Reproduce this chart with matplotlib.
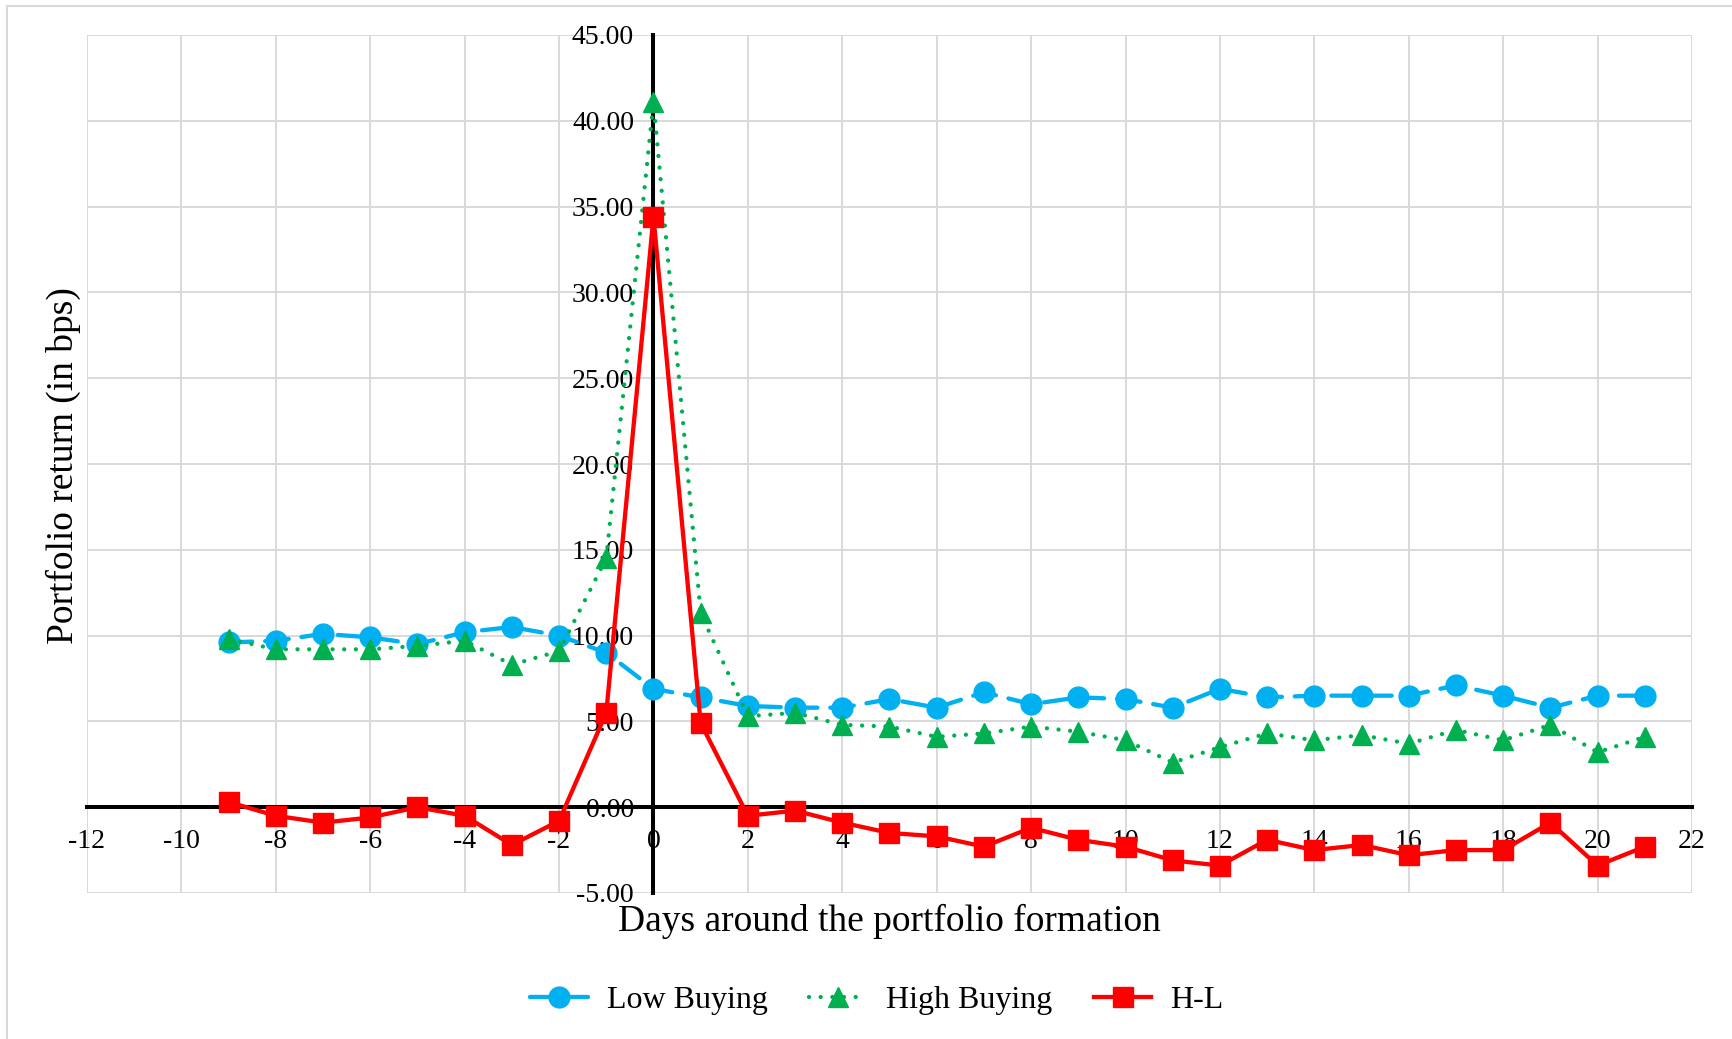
import numpy as np
import matplotlib
matplotlib.use("Agg")
import matplotlib.pyplot as plt
from matplotlib.ticker import FormatStrFormatter, MultipleLocator
from matplotlib.patches import Rectangle

plt.rcParams['font.family'] = ['Liberation Serif', 'DejaVu Serif']
plt.rcParams['axes.unicode_minus'] = False

# data
days = list(range(-9, 22))
low_buying = [9.6, 9.7, 10.1, 9.9, 9.5, 10.2, 10.5, 10.0, 9.0, 6.9,
              6.4, 5.9, 5.8, 5.8, 6.3, 5.8, 6.7, 6.0, 6.4, 6.3,
              5.8, 6.9, 6.4, 6.5, 6.5, 6.5, 7.1, 6.5, 5.8, 6.5, 6.5]
high_buying = [9.8, 9.2, 9.2, 9.2, 9.4, 9.7, 8.3, 9.1, 14.5, 41.1,
               11.3, 5.3, 5.5, 4.8, 4.7, 4.1, 4.3, 4.7, 4.4, 3.9,
               2.6, 3.5, 4.3, 3.9, 4.2, 3.7, 4.5, 3.9, 4.8, 3.2, 4.1]
h_minus_l = [0.3, -0.5, -0.9, -0.6, 0.0, -0.5, -2.2, -0.8, 5.5, 34.4,
             4.9, -0.5, -0.2, -0.9, -1.5, -1.7, -2.3, -1.2, -1.9, -2.3,
             -3.1, -3.4, -1.9, -2.5, -2.2, -2.8, -2.5, -2.5, -0.9, -3.4, -2.3]

fig = plt.figure(figsize=(17.32, 10.39), dpi=100)
ax = fig.add_axes([87 / 1732, 1 - 893 / 1039, (1692 - 87) / 1732, (893 - 35) / 1039])

# chart border (only top/left visible in the original)
fig.patches.append(Rectangle((7 / 1732, -0.1), 1.2, 1 - 6 / 1039 + 0.1,
                             transform=fig.transFigure, fill=False,
                             edgecolor='#D9D9D9', linewidth=1.5))

ax.plot(days, low_buying, color='#00B0F0', linewidth=3.1, marker='o', markersize=15,
        dashes=(5.5, 3.0), dash_capstyle='round', label='Low Buying', zorder=3)
ax.plot(days, high_buying, color='#00B050', linewidth=3.1, marker='^', markersize=15,
        linestyle=(0, (0.01, 2.7)), dash_capstyle='round', label='High Buying', zorder=3)
ax.plot(days, h_minus_l, color='#FF0000', linewidth=3.1, marker='s', markersize=14,
        label='H-L', zorder=4)

ax.set_xlim(-12, 22)
ax.set_ylim(-5, 45)
ax.xaxis.set_major_locator(MultipleLocator(2))
ax.yaxis.set_major_locator(MultipleLocator(5))
ax.xaxis.set_major_formatter(FormatStrFormatter('%d'))
ax.yaxis.set_major_formatter(FormatStrFormatter('%.2f'))

ax.grid(True, color='#D9D9D9', linewidth=1.4, zorder=0)
ax.set_axisbelow(True)

ax.spines['left'].set_position(('data', 0))
ax.spines['bottom'].set_position(('data', 0))
for s in ['left', 'bottom']:
    ax.spines[s].set_linewidth(2.9)
    ax.spines[s].set_color('black')
    ax.spines[s].set_zorder(2.5)
ax.spines['top'].set_visible(False)
ax.spines['right'].set_visible(False)

ax.tick_params(axis='both', length=0, labelsize=20, colors='black')
ax.tick_params(axis='y', pad=14)
ax.tick_params(axis='x', pad=16)

fig.text(889 / 1732, 1 - 921 / 1039, 'Days around the portfolio formation',
         ha='center', va='center', fontsize=27)
fig.text(63 / 1732, 1 - 466 / 1039, 'Portfolio return (in bps)',
         ha='center', va='center', rotation=90, fontsize=27)

fig.legend(loc='center', bbox_to_anchor=(877 / 1732, 1 - 1000 / 1039), ncol=3,
           frameon=False, fontsize=23, handlelength=1.8, handletextpad=0.6,
           columnspacing=1.3, markerscale=1.0)

fig.savefig('out.png', dpi=100)
